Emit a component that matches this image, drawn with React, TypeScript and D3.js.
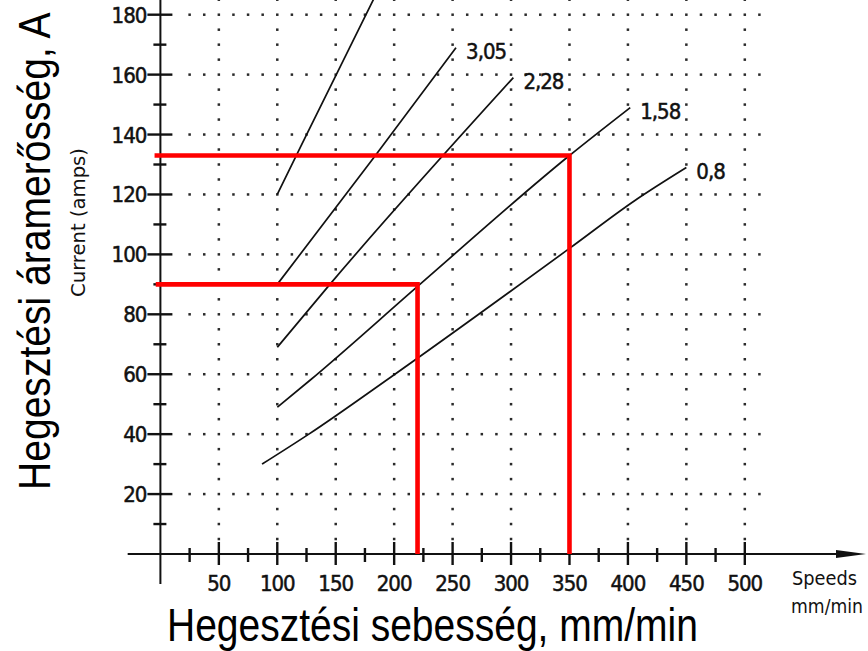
import React from "react";
import * as d3 from "d3";

const W = 868;
const H = 651;

// axis ticks
const X_MAJOR = [50, 100, 150, 200, 250, 300, 350, 400, 450, 500];
const X_MINOR = [25, 75, 125, 175, 225, 275, 325, 375, 425, 475];
const Y_MAJOR = [20, 40, 60, 80, 100, 120, 140, 160, 180];
const Y_MINOR = [10, 30, 50, 70, 90, 110, 130, 150, 170];

// curves: [speed mm/min, current A]
const LINE_STEEP: [number, number][] = [[100, 120], [120, 136], [186, 188]];
const LINE_305: [number, number][] = [[100, 90], [182, 132], [253, 169]];
const LINE_228: [number, number][] = [[100, 69], [145, 90], [302, 159]];
const LINE_158: [number, number][] = [[100, 49], [128, 58], [222, 90], [350, 133], [402, 149]];
const LINE_08: [number, number][] = [[87, 30], [127, 40], [197, 59], [350, 102], [406, 118], [450, 129]];

const SERIES = [
  { label: "", pts: LINE_STEEP },
  { label: "3,05", pts: LINE_305 },
  { label: "2,28", pts: LINE_228 },
  { label: "1,58", pts: LINE_158 },
  { label: "0,8", pts: LINE_08 },
];

// red reading lines
const RED_A: [number, number][] = [[-5, 133], [350, 133], [350, 0]];
const RED_B: [number, number][] = [[-4, 90], [220, 90], [220, 0]];

const X_TITLE = "Hegesztési sebesség, mm/min";
const Y_TITLE = "Hegesztési áramerősség, A";
const Y_SUB = "Current (amps)";
const X_UNIT1 = "Speeds";
const X_UNIT2 = "mm/min";

const NARROW = "'Liberation Sans Narrow', 'Arial Narrow', 'DejaVu Sans Condensed', sans-serif";
const SANS = "'Liberation Sans', Arial, sans-serif";

export default function App() {
  const x = d3.scaleLinear().domain([0, 500]).range([160.4, 744.8]);
  const y = d3.scaleLinear().domain([0, 180]).range([554, 14.7]);
  const line = d3.line<[number, number]>().x((d) => x(d[0])).y((d) => y(d[1]));
  const smooth = d3
    .line<[number, number]>()
    .x((d) => x(d[0]))
    .y((d) => y(d[1]))
    .curve(d3.curveMonotoneX);

  const x0 = x(0);
  const y0 = y(0);

  // grid dots
  const dots: { cx: number; cy: number }[] = [];
  const yVals = d3.range(5, 186, 5);
  X_MAJOR.forEach((xv) => {
    yVals.forEach((yv) => dots.push({ cx: x(xv), cy: y(yv) }));
  });
  const xVals = d3.range(25, 513, 12.5);
  Y_MAJOR.forEach((yv) => {
    xVals.forEach((xv) => {
      if (xv % 50 !== 0) dots.push({ cx: x(xv), cy: y(yv) });
    });
  });

  const tickText = {
    fontFamily: NARROW,
    fontSize: 22,
    fill: "#111",
    stroke: "#111",
    strokeWidth: 0.5,
    letterSpacing: -1,
  } as const;

  return (
    <svg
      width={W}
      height={H}
      viewBox={`0 0 ${W} ${H}`}
      style={{ position: "absolute", left: 0, top: 0, background: "#fff" }}
    >
      <rect x={0} y={0} width={W} height={H} fill="#fff" />
      {/* grid dots */}
      <g fill="#2a2a2a">
        {dots.map((d, i) => (
          <rect key={i} x={d.cx - 1.25} y={d.cy - 1.25} width={2.5} height={2.5} />
        ))}
      </g>

      {/* axes */}
      <g stroke="#111" strokeWidth={2}>
        <line x1={x0} y1={y(-10)} x2={x0} y2={0} />
        <line x1={x(-28)} y1={y0} x2={842} y2={y0} />
      </g>
      <path d={`M836,${y0 - 4} L866,${y0} L836,${y0 + 4} Z`} fill="#111" />

      {/* ticks */}
      <g stroke="#111" strokeWidth={2.4}>
        {X_MAJOR.map((v) => (
          <line key={"xM" + v} x1={x(v)} x2={x(v)} y1={y0 - 12} y2={y0 + 11} />
        ))}
        {X_MINOR.map((v) => (
          <line key={"xm" + v} x1={x(v)} x2={x(v)} y1={y0 - 6} y2={y0 + 8} />
        ))}
        {Y_MAJOR.map((v) => (
          <line key={"yM" + v} x1={x0 - 13} x2={x0 + 12} y1={y(v)} y2={y(v)} />
        ))}
        {Y_MINOR.map((v) => (
          <line key={"ym" + v} x1={x0 - 7} x2={x0 + 6} y1={y(v)} y2={y(v)} />
        ))}
      </g>

      {/* tick labels */}
      <g {...tickText}>
        {X_MAJOR.map((v) => (
          <text key={"xl" + v} x={x(v)} y={591} textAnchor="middle">
            {v}
          </text>
        ))}
        {Y_MAJOR.map((v) => (
          <text key={"yl" + v} x={x0 - 14} y={y(v) + 8} textAnchor="end">
            {v}
          </text>
        ))}
      </g>

      {/* curves */}
      <g fill="none" stroke="#111" strokeWidth={1.7}>
        {SERIES.map((s, i) => (
          <path key={i} d={smooth(s.pts) || ""} />
        ))}
      </g>
      <g {...tickText}>
        {SERIES.filter((s) => s.label).map((s, i) => {
          const last = s.pts[s.pts.length - 1];
          return (
            <text key={i} x={x(last[0]) + 10} y={y(last[1]) + 11}>
              {s.label}
            </text>
          );
        })}
      </g>

      {/* red lines */}
      <g fill="none" stroke="#ff0000" strokeWidth={4.6} strokeLinejoin="miter">
        <path d={line(RED_A) || ""} />
        <path d={line(RED_B) || ""} />
      </g>

      {/* unit labels */}
      <g fontFamily={NARROW} fill="#111">
        <text x={792} y={585} fontSize={20} textLength={65} lengthAdjust="spacingAndGlyphs">
          {X_UNIT1}
        </text>
        <text x={791} y={613} fontSize={19} textLength={72} lengthAdjust="spacingAndGlyphs">
          {X_UNIT2}
        </text>
        <text
          transform="translate(85,297) rotate(-90)"
          fontSize={19}
          textLength={149}
          lengthAdjust="spacingAndGlyphs"
        >
          {Y_SUB}
        </text>
      </g>

      {/* titles */}
      <text
        transform="translate(167,641) scale(0.848,1)"
        fontFamily={SANS}
        fontSize={46}
        fill="#000"
      >
        {X_TITLE}
      </text>
      <text
        transform="translate(50,490) rotate(-90) scale(0.868,1)"
        fontFamily={SANS}
        fontSize={45}
        fill="#000"
      >
        {Y_TITLE}
      </text>
    </svg>
  );
}
